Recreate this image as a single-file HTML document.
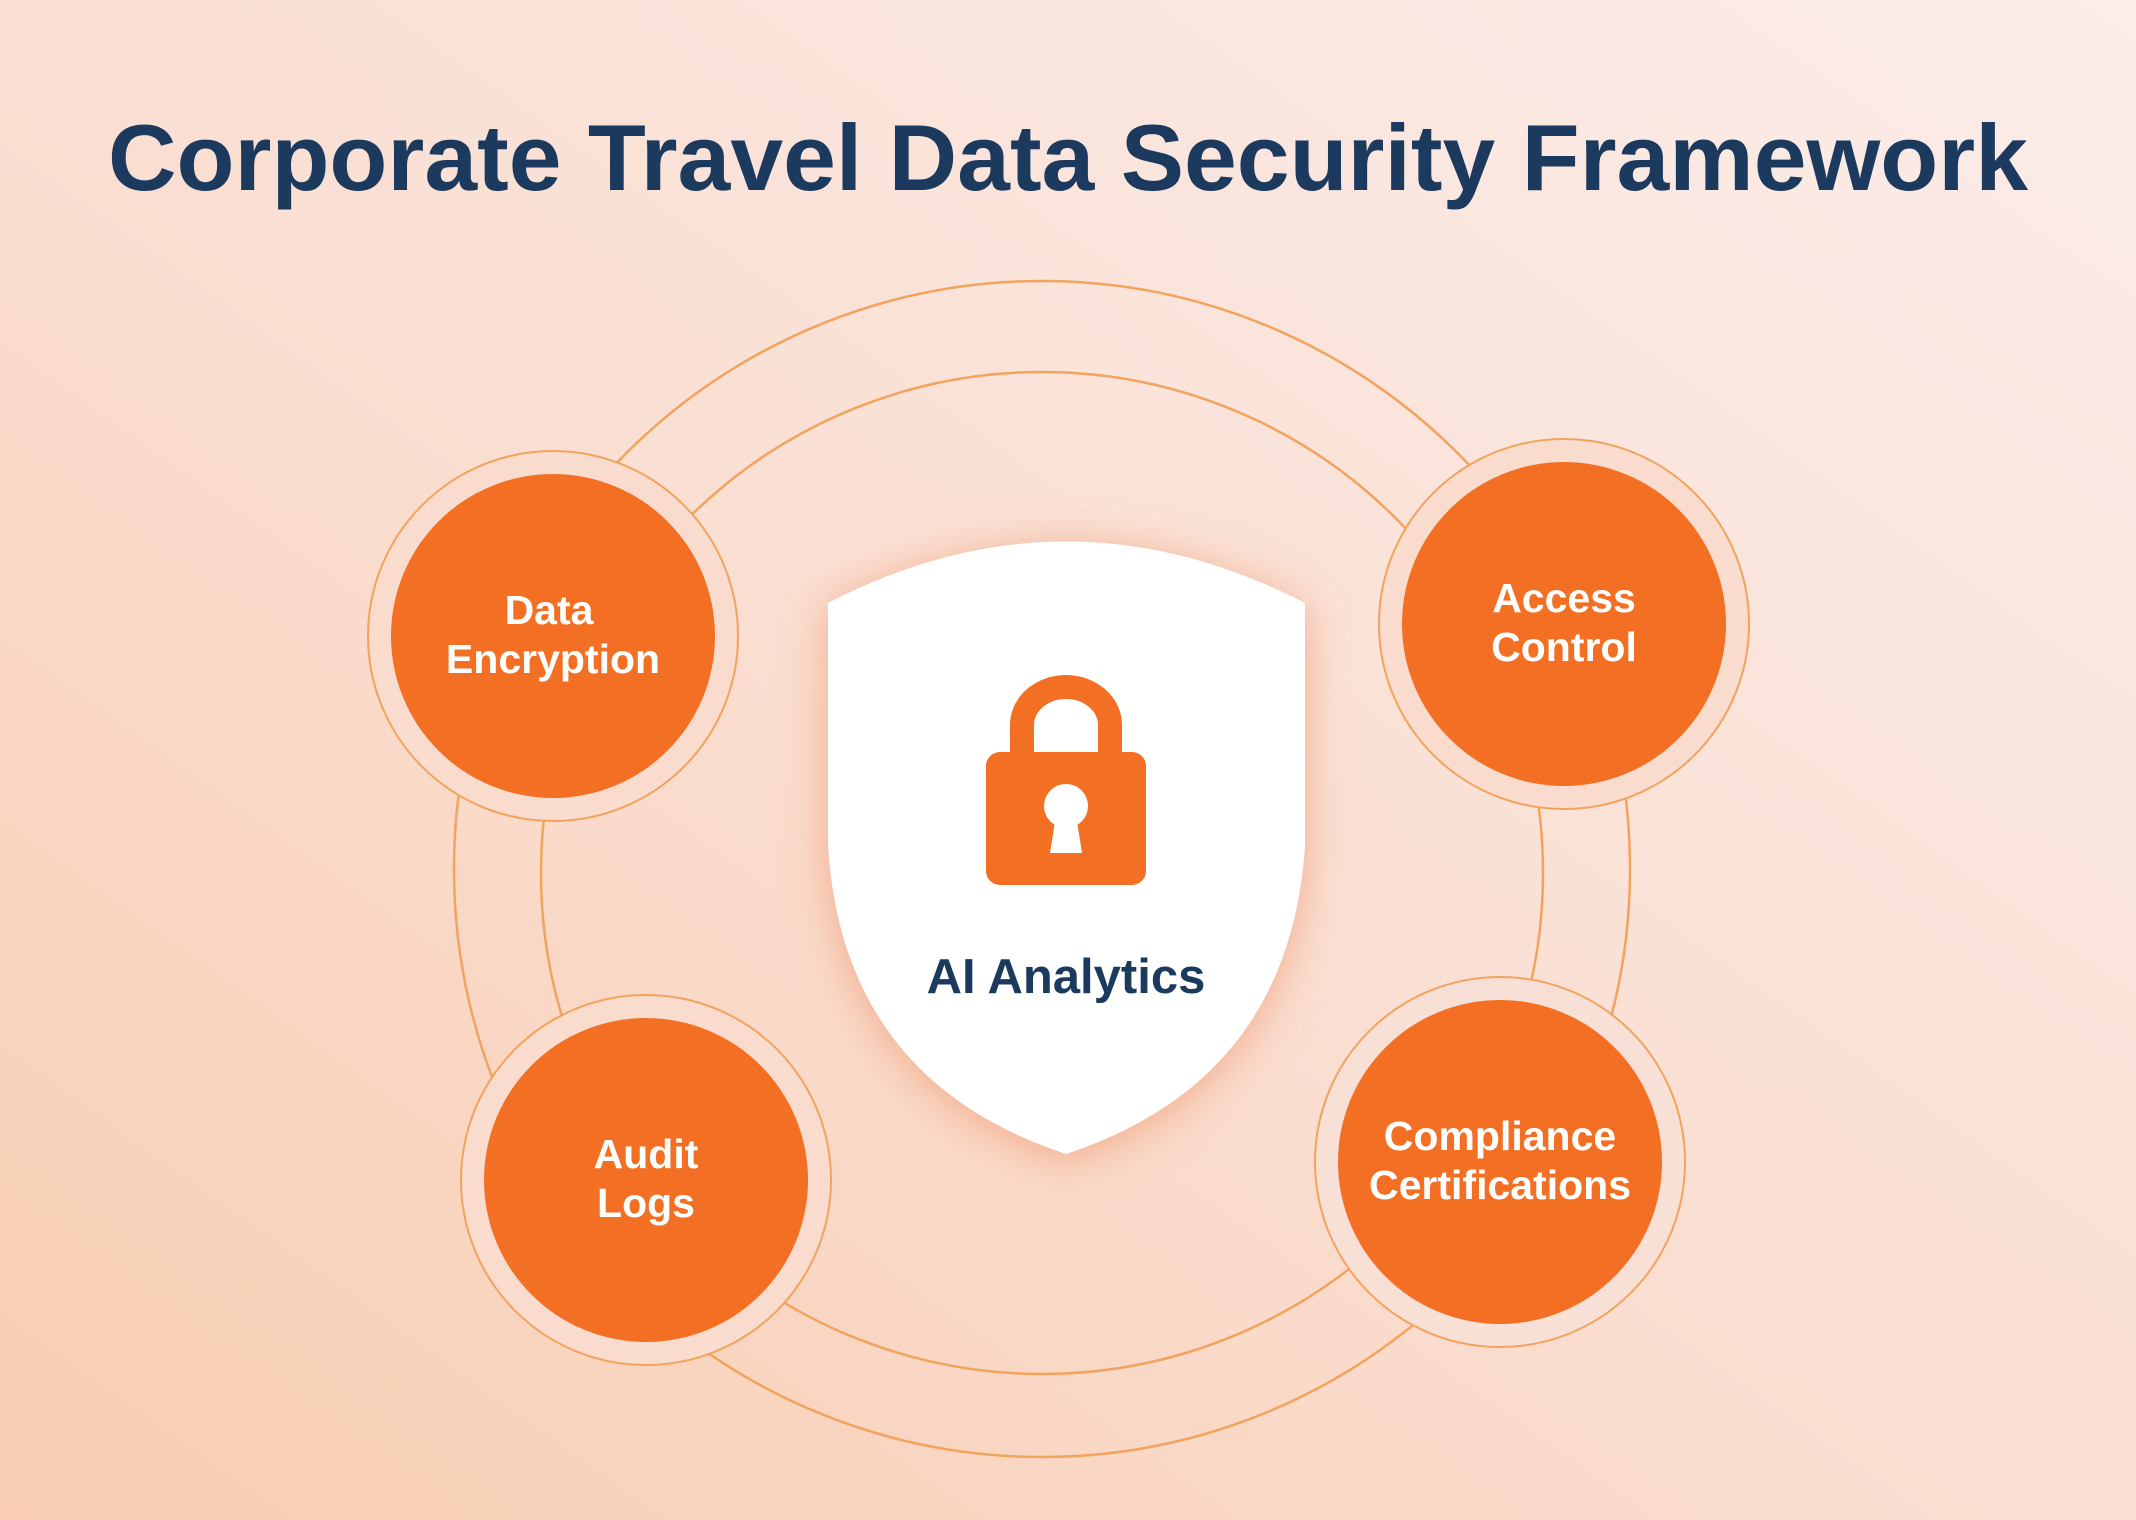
<!DOCTYPE html>
<html><head><meta charset="utf-8"><style>
html,body{margin:0;padding:0;width:2136px;height:1520px;overflow:hidden}
</style></head><body>
<svg width="2136" height="1520" viewBox="0 0 2136 1520" xmlns="http://www.w3.org/2000/svg" font-family="Liberation Sans, sans-serif">
<defs>
<linearGradient id="bg" x1="0" y1="1" x2="1" y2="0">
<stop offset="0" stop-color="#f8cdb1"/>
<stop offset="0.5" stop-color="#fadfd3"/>
<stop offset="1" stop-color="#fbede9"/>
</linearGradient>
<filter id="sh2" x="-40%" y="-40%" width="180%" height="180%">
<feGaussianBlur in="SourceAlpha" stdDeviation="22" result="b"/>
<feOffset in="b" dx="0" dy="6" result="o"/>
<feFlood flood-color="#ee8a5a" flood-opacity="0.6"/>
<feComposite in2="o" operator="in" result="s"/>
<feMerge><feMergeNode in="s"/><feMergeNode in="SourceGraphic"/></feMerge>
</filter>
</defs>
<rect width="2136" height="1520" fill="url(#bg)"/>
<text x="1068" y="190" text-anchor="middle" font-size="94" font-weight="bold" fill="#1b3a5e" textLength="1920" lengthAdjust="spacingAndGlyphs">Corporate Travel Data Security Framework</text>

<circle cx="1042" cy="869" r="588" fill="none" stroke="#f2a35e" stroke-width="2.5"/>
<circle cx="1042" cy="873" r="501" fill="none" stroke="#f2a35e" stroke-width="2.5"/>

<g stroke="#f2a35e" stroke-width="2" fill="#f9dccd">
<circle cx="553" cy="636" r="185"/>
<circle cx="1564" cy="624" r="185"/>
<circle cx="646" cy="1180" r="185"/>
<circle cx="1500" cy="1162" r="185" fill="#f9e0d6"/>
</g>
<g fill="#f26f24">
<circle cx="553" cy="636" r="162"/>
<circle cx="1564" cy="624" r="162"/>
<circle cx="646" cy="1180" r="162"/>
<circle cx="1500" cy="1162" r="162"/>
</g>
<g fill="#fff" font-size="41" font-weight="bold" text-anchor="middle">
<text x="549" y="624">Data</text>
<text x="553" y="673">Encryption</text>
<text x="1564" y="612">Access</text>
<text x="1564" y="661">Control</text>
<text x="646" y="1168">Audit</text>
<text x="646" y="1217">Logs</text>
<text x="1500" y="1150">Compliance</text>
<text x="1500" y="1199">Certifications</text>
</g>

<path d="M828,603 Q1066,480 1305,603 L1305,845 Q1290,1080 1066,1154 Q842,1080 828,845 Z" fill="#fff" filter="url(#sh2)"/>
<path d="M1022,752 L1022,725 A44,38 0 0 1 1110,725 L1110,752" fill="none" stroke="#f26f24" stroke-width="24"/>
<rect x="986" y="752" width="160" height="133" rx="14" fill="#f26f24"/>
<circle cx="1066" cy="806" r="22" fill="#fff"/>
<path d="M1056,815 L1050,853 L1082,853 L1076,815 Z" fill="#fff"/>
<text x="1066" y="993" text-anchor="middle" font-size="49" font-weight="bold" fill="#1b3a5e">AI Analytics</text>
</svg>
</body></html>
